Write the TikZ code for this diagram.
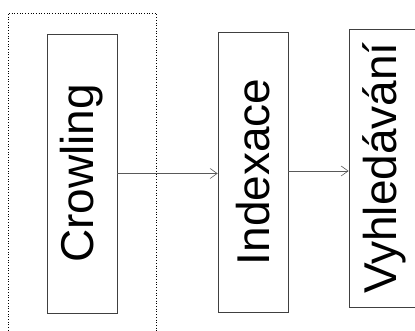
\documentclass[tikz,border=0pt]{standalone}
\usepackage{fontspec}
\setmainfont{Liberation Sans}
\usetikzlibrary{arrows.meta}

\tikzset{
  stage/.style={draw=black!75, line width=0.7pt, inner sep=0pt, minimum width=70pt,
    font=\fontsize{46}{46}\selectfont},
  flow/.style={draw=black!65, line width=0.6pt, -{Straight Barb[length=7pt,width=10pt]}}
}

\begin{document}
\begin{tikzpicture}[x=1pt, y=1pt]
\useasboundingbox (0,0) rectangle (415,331);
\clip (0,0) rectangle (415,331);

% crawler part
\draw[dotted, line width=0.7pt] (8,-5) rectangle (156,318);

\node[stage, minimum height=279pt] (crowl) at (82,157.5) {\rotatebox{90}{Crowling}};
\node[stage, minimum height=280pt] (index) at (253,159) {\rotatebox{90}{Indexace}};
\node[stage, minimum height=278pt] (search) at (384,163) {\rotatebox{90}{Vyhledávání}};

% arrows
\draw[flow] (crowl.east) -- (crowl.east -| index.west);
\draw[flow] ([yshift=1pt]index.east) -- ([yshift=1pt]index.east -| search.west);

\end{tikzpicture}
\end{document}
